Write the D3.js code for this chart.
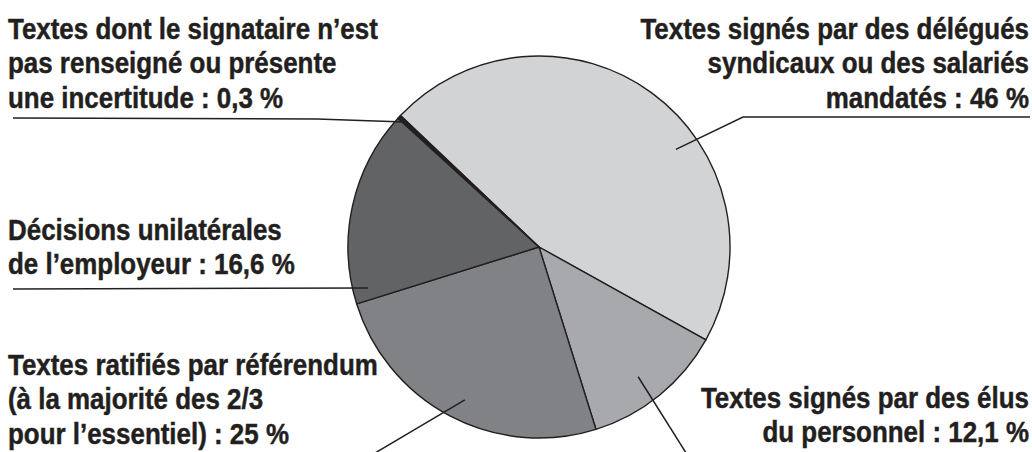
<!DOCTYPE html>
<html>
<head>
<meta charset="utf-8">
<script src="https://cdn.jsdelivr.net/npm/d3@7"></script>
<style>
  body { margin: 0; background: #fff; }
  svg { display: block; }
  .lbl { font-family: "Liberation Sans", Arial, "Roboto", sans-serif; font-weight: bold; fill: #231f20; stroke: #231f20; stroke-width: 0.45; }
</style>
</head>
<body>
<svg id="chart" width="1032" height="452"></svg>
<script>
// values (%), in drawing order clockwise
const categories = [
  'Textes signés par des délégués syndicaux ou des salariés mandatés',
  'Textes signés par des élus du personnel',
  'Textes ratifiés par référendum',
  "Décisions unilatérales de l'employeur",
  "Textes dont le signataire n'est pas renseigné"
];
const shares = [46, 12.1, 25, 16.6, 0.3];
const labelLines = [
  ['Textes signés par des délégués', 'syndicaux ou des salariés', 'mandatés : 46 %'],
  ['Textes signés par des élus', 'du personnel : 12,1 %'],
  ['Textes ratifiés par référendum', '(à la majorité des 2/3', 'pour l’essentiel) : 25 %'],
  ['Décisions unilatérales', 'de l’employeur : 16,6 %'],
  ['Textes dont le signataire n’est', 'pas renseigné ou présente', 'une incertitude : 0,3 %']
];
const fills = ['#d1d3d4', '#a7a9ac', '#808285', '#626365', '#231f20'];

const W = 1032, H = 452;
const cx = 539, cy = 247, radius = 191;
const startDeg = -46.5;
const lineH = 34.5;
const fontSize = 29;

// label block placement + leader routing (layout only)
const layout = [
  { x: 1029, y: 39, anchor: 'end', lead: [[1030, 117], [743, 117]], t: 0.61, k: 0.88 },
  { x: 1029, y: 408, anchor: 'end', lead: [[688, 456]], t: 0.54, k: 0.855 },
  { x: 8, y: 375, anchor: 'start', lead: [[370, 456]], t: 0.48, k: 0.89 },
  { x: 8, y: 240, anchor: 'start', lead: [[13, 289]], t: 0.064, k: 0.92 },
  { x: 8, y: 39, anchor: 'start', lead: [[13, 118], [317, 119]], t: 0.5, k: 0.96 }
];

const svg = d3.select('#chart');
const rad = d => d * Math.PI / 180;

const pie = d3.pie()
  .sort(null)
  .value(d => d)
  .startAngle(rad(startDeg))
  .endAngle(rad(startDeg) + 2 * Math.PI);
const arcs = pie(shares);
const arc = d3.arc().innerRadius(0).outerRadius(radius);

const g = svg.append('g').attr('transform', `translate(${cx},${cy})`);
g.selectAll('path.slice')
  .data(arcs)
  .join('path')
  .attr('class', 'slice')
  .attr('d', arc)
  .attr('fill', (d, i) => fills[i])
  .attr('stroke', '#231f20')
  .attr('stroke-width', 1.4)
  .attr('stroke-linejoin', 'round');

// leader lines
const anchorPt = (a, l) => {
  const ang = a.startAngle + (a.endAngle - a.startAngle) * l.t;
  const r = radius * l.k;
  return [cx + r * Math.sin(ang), cy - r * Math.cos(ang)];
};
svg.selectAll('path.lead')
  .data(arcs)
  .join('path')
  .attr('class', 'lead')
  .attr('d', (d, i) => d3.line()([...layout[i].lead, anchorPt(d, layout[i])]))
  .attr('fill', 'none')
  .attr('stroke', '#231f20')
  .attr('stroke-width', 1.5);

// labels
const blocks = svg.selectAll('text.lbl')
  .data(labelLines)
  .join('text')
  .attr('class', 'lbl')
  .attr('text-anchor', (d, i) => layout[i].anchor)
  .attr('font-size', fontSize);
blocks.selectAll('tspan')
  .data((d, i) => d.map(s => ({ s, i })))
  .join('tspan')
  .attr('x', d => layout[d.i].x)
  .attr('y', (d, j) => layout[d.i].y + j * lineH)
  .text(d => d.s);

// condensed look: squeeze horizontally so "Textes ratifiés par référendum" spans ~370px
const probe = blocks.filter((d, i) => i === 2).select('tspan').node();
const sx = 370 / probe.getComputedTextLength();
blocks.attr('transform', (d, i) => {
  const x = layout[i].x;
  return `translate(${x},0) scale(${sx},1) translate(${-x},0)`;
});
</script>
</body>
</html>
